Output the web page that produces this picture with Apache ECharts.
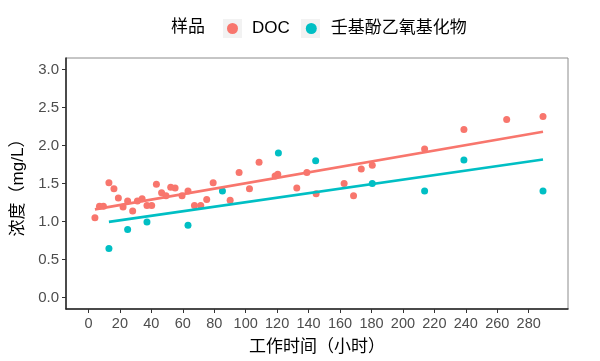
<!DOCTYPE html>
<html>
<head>
<meta charset="utf-8">
<script src="https://cdn.jsdelivr.net/npm/echarts@6/dist/echarts.min.js"></script>
<style>
html,body{margin:0;padding:0;background:#fff;}
#chart{width:600px;height:361px;}
</style>
</head>
<body>
<div id="chart"></div>
<script>
// ---- data ----
var seriesNames = ['DOC', '壬基酚乙氧基化物'];
var docX = [4.1, 7.0, 9.5, 13.0, 16.2, 19.0, 22.0, 24.9, 28.1, 31.1, 34.1, 37.2, 40.2, 43.2, 46.5, 49.3, 52.3, 55.1, 59.5, 63.3, 67.4, 71.4, 75.2, 79.3, 90.1, 95.8, 102.4, 108.5, 118.7, 120.4, 132.5, 138.9, 144.8, 162.6, 168.6, 173.5, 180.5, 213.8, 238.8, 266.0, 289.1];
var docY = [1.05, 1.20, 1.20, 1.51, 1.43, 1.31, 1.19, 1.27, 1.14, 1.27, 1.30, 1.21, 1.21, 1.49, 1.38, 1.34, 1.45, 1.44, 1.34, 1.40, 1.21, 1.21, 1.29, 1.51, 1.28, 1.645, 1.43, 1.78, 1.60, 1.62, 1.44, 1.645, 1.365, 1.50, 1.34, 1.69, 1.74, 1.955, 2.21, 2.34, 2.38];
var npeX = [13.0, 24.9, 37.2, 63.3, 85.2, 120.8, 144.5, 180.5, 213.8, 238.8, 289.1];
var npeY = [0.645, 0.895, 0.995, 0.95, 1.40, 1.90, 1.80, 1.50, 1.40, 1.81, 1.40];
// fitted trend line endpoints
var docFitX = [4.1, 289.1];
var docFitY = [1.16, 2.18];
var npeFitX = [13.0, 289.1];
var npeFitY = [0.995, 1.815];
var xTicks = [0, 20, 40, 60, 80, 100, 120, 140, 160, 180, 200, 220, 240, 260, 280];
var yTicks = [0, 0.5, 1.0, 1.5, 2.0, 2.5, 3.0];
var xTitle = '工作时间（小时）';
var yTitle = '浓度（mg/L）';
var legendTitle = '样品';

var colors = ['#F8766D', '#00BFC4'];
function zip(a, b) { return a.map(function (v, i) { return [v, b[i]]; }); }

var FONT = '"Liberation Sans", "Noto Sans CJK SC", sans-serif';
var chart = echarts.init(document.getElementById('chart'), null, {renderer: 'canvas'});
var option = {
  backgroundColor: '#ffffff',
  animation: false,
  textStyle: {fontFamily: FONT},
  title: {
    text: legendTitle, left: 171, top: 19, padding: 0,
    textStyle: {fontSize: 17, fontWeight: 'normal', color: '#000', fontFamily: FONT}
  },
  graphic: [
    {type: 'rect', left: 223, top: 19, shape: {width: 19, height: 19}, style: {fill: '#F2F2F2'}, z: -1},
    {type: 'rect', left: 301, top: 19, shape: {width: 19, height: 19}, style: {fill: '#F2F2F2'}, z: -1}
  ],
  legend: {
    data: seriesNames,
    left: 227, top: 20, padding: 0,
    icon: 'circle', itemWidth: 11, itemHeight: 11, itemGap: 16,
    textStyle: {fontSize: 17, color: '#000', fontFamily: FONT, padding: [0, 0, 0, 9]}
  },
  grid: {
    left: 66, right: 32, top: 58, bottom: 49,
    show: true, borderColor: '#8c8c8c', borderWidth: 1, backgroundColor: '#fff'
  },
  xAxis: {
    type: 'value', min: -14.3, max: 305,
    name: xTitle, nameLocation: 'middle', nameGap: 30,
    nameTextStyle: {fontSize: 17, color: '#000', fontFamily: FONT},
    axisLine: {show: true, onZero: false, lineStyle: {color: '#222', width: 1.5}},
    axisTick: {show: true, length: 4, lineStyle: {color: '#333'}, customValues: xTicks},
    axisLabel: {fontSize: 14.5, color: '#4d4d4d', margin: 8, customValues: xTicks},
    splitLine: {show: false}
  },
  yAxis: {
    type: 'value', min: -0.15, max: 3.15,
    name: yTitle, nameLocation: 'middle', nameGap: 34, nameRotate: 90,
    nameTextStyle: {fontSize: 17, color: '#000', fontFamily: FONT},
    axisLine: {show: true, onZero: false, lineStyle: {color: '#222', width: 1.5}},
    axisTick: {show: true, length: 4, lineStyle: {color: '#333'}, customValues: yTicks},
    axisLabel: {fontSize: 15, color: '#4d4d4d', margin: 7, customValues: yTicks,
      formatter: function (v) { return v.toFixed(1); }},
    splitLine: {show: false}
  },
  series: [
    {name: seriesNames[0], type: 'scatter', data: zip(docX, docY), symbolSize: 7,
      itemStyle: {color: colors[0], opacity: 1}, z: 2},
    {name: seriesNames[1], type: 'scatter', data: zip(npeX, npeY), symbolSize: 7,
      itemStyle: {color: colors[1], opacity: 1}, z: 2},
    {name: 'fit1', type: 'line', data: zip(docFitX, docFitY), symbol: 'none',
      lineStyle: {color: colors[0], width: 2.6}, z: 3, silent: true},
    {name: 'fit2', type: 'line', data: zip(npeFitX, npeFitY), symbol: 'none',
      lineStyle: {color: colors[1], width: 2.6}, z: 3, silent: true}
  ]
};
chart.setOption(option);
</script>
</body>
</html>
